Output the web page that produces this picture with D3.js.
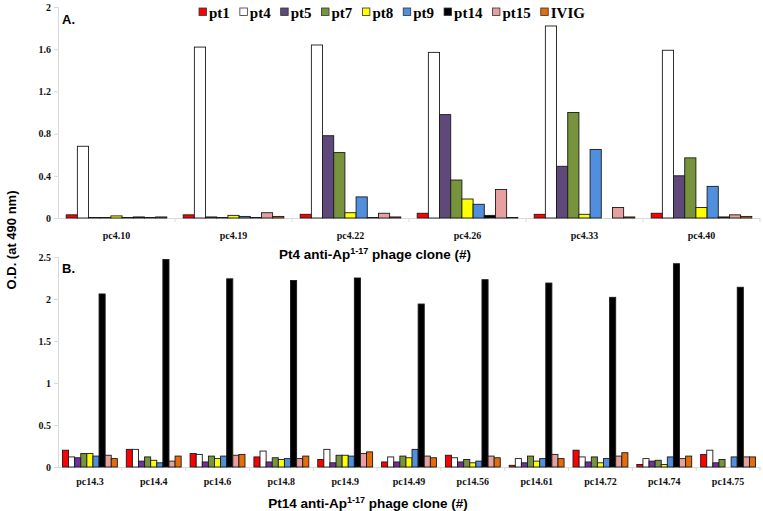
<!DOCTYPE html>
<html><head><meta charset="utf-8">
<script src="https://cdn.jsdelivr.net/npm/d3@7"></script>
<style>body{margin:0;background:#fff}svg{display:block}</style>
</head><body>
<script>
const series = ["pt1","pt4","pt5","pt7","pt8","pt9","pt14","pt15","IVIG"];
const colorsTop = ["#FF0000","#FFFFFF","#5F497A","#77933C","#FFFF00","#4F8FDD","#000000","#E6A0A0","#E46C0A"];
const colorsBottom = ["#FF0000","#FFFFFF","#7030A0","#77933C","#FFFF00","#4F8FDD","#000000","#E6A0A0","#E46C0A"];

const catsA = ["pc4.10","pc4.19","pc4.22","pc4.26","pc4.33","pc4.40"];
const valsA = [ // rows = clones, columns = series
  [0.03,0.68,0.005,0.005,0.02,0.005,0.01,0.005,0.01],
  [0.03,1.62,0.01,0.005,0.025,0.015,0.005,0.05,0.015],
  [0.035,1.64,0.78,0.62,0.05,0.2,0.005,0.045,0.01],
  [0.045,1.57,0.98,0.36,0.18,0.13,0.025,0.27,0.005],
  [0.035,1.82,0.49,1.0,0.035,0.65,0,0.1,0.01],
  [0.045,1.59,0.40,0.57,0.1,0.3,0.01,0.03,0.015]
];
const ticksA = [0,0.4,0.8,1.2,1.6,2];

const catsB = ["pc14.3","pc14.4","pc14.6","pc14.8","pc14.9","pc14.49","pc14.56","pc14.61","pc14.72","pc14.74","pc14.75"];
const valsB = [
  [0.2,0.12,0.11,0.16,0.16,0.13,2.06,0.14,0.1],
  [0.21,0.21,0.07,0.12,0.08,0.05,2.47,0.07,0.13],
  [0.16,0.15,0.06,0.13,0.1,0.13,2.24,0.14,0.15],
  [0.12,0.19,0.06,0.11,0.09,0.1,2.22,0.1,0.13],
  [0.09,0.21,0.05,0.14,0.14,0.13,2.25,0.16,0.18],
  [0.06,0.12,0.06,0.13,0.11,0.21,1.94,0.13,0.11],
  [0.14,0.11,0.06,0.09,0.05,0.07,2.23,0.13,0.11],
  [0.02,0.1,0.05,0.13,0.07,0.1,2.19,0.15,0.1],
  [0.2,0.12,0.06,0.12,0.05,0.1,2.02,0.13,0.17],
  [0.03,0.1,0.07,0.08,0.03,0.12,2.42,0.1,0.13],
  [0.15,0.2,0.05,0.09,0,0.12,2.14,0.12,0.12]
];
const ticksB = [0,0.5,1,1.5,2,2.5];
const tickLabelsB = ["0","0.5","1","1.5","2","2.5"];

const W = 763, H = 511;
const svg = d3.select("body").append("svg").attr("width",W).attr("height",H);
const serif = "'Liberation Serif','Times New Roman',serif";
const sans = "'Liberation Sans',Arial,sans-serif";

function panel(cats, vals, ticks, tickLabels, yMax, yTop, yBase, colors, letter, letterY, labelY, titleX, titleY, titleText){
  const x0 = d3.scaleBand().domain(cats).range([58,760]).paddingInner(0.14).paddingOuter(0.07);
  const x1 = d3.scaleBand().domain(series).range([0,x0.bandwidth()]);
  const y = d3.scaleLinear().domain([0,yMax]).range([yBase,yTop]);
  const g = svg.append("g");
  const ya = d3.axisLeft(y).tickValues(ticks).tickSize(4).tickFormat((d,i)=>tickLabels[i]);
  const yg = g.append("g").attr("transform","translate(58,0)").call(ya);
  yg.select(".domain").attr("stroke","#D9D9D9");
  yg.selectAll(".tick line").attr("stroke","#D9D9D9");
  yg.selectAll("text").attr("font-family",serif).attr("font-weight","bold").attr("font-size",10).attr("fill","#111").attr("x",-7);
  const xa = d3.axisBottom(x0).tickSize(0).tickFormat(d=>d);
  const xg = g.append("g").attr("transform",`translate(0,${yBase})`).call(xa);
  xg.select(".domain").attr("stroke","#D9D9D9");
  xg.selectAll("text").attr("font-family",serif).attr("font-weight","bold").attr("font-size",10).attr("fill","#111").attr("dy",0).attr("y",labelY-yBase);
  g.selectAll(".bt").data(cats.slice(1)).enter().append("line")
    .attr("x1",d=>x0(d)-x0.step()*0.07).attr("x2",d=>x0(d)-x0.step()*0.07)
    .attr("y1",yBase).attr("y2",yBase+4).attr("stroke","#D9D9D9");
  g.append("line").attr("x1",760).attr("x2",760).attr("y1",yBase).attr("y2",yBase+4).attr("stroke","#D9D9D9");
  cats.forEach((c,ci)=>{
    g.append("g").attr("transform",`translate(${x0(c)},0)`)
      .selectAll("rect").data(vals[ci]).enter().append("rect")
      .attr("x",(d,i)=>x1(series[i])).attr("width",x1.bandwidth())
      .attr("y",d=>y(d)).attr("height",d=>yBase-y(d))
      .attr("fill",(d,i)=>colors[i]).attr("stroke","#1a1a1a").attr("stroke-width",0.9);
  });
  g.append("text").attr("x",62).attr("y",letterY).attr("font-family",sans).attr("font-weight","bold").attr("font-size",13).text(letter);
  const t = g.append("text").attr("x",titleX).attr("y",titleY).attr("text-anchor","middle")
    .attr("font-family",sans).attr("font-weight","bold").attr("font-size",13.5);
  t.append("tspan").text(titleText[0]);
  t.append("tspan").attr("dy",-5).attr("font-size",9).text("1-17");
  t.append("tspan").attr("dy",5).text(titleText[1]);
}

panel(catsA, valsA, ticksA, ticksA.map(String), 2, 7, 218, colorsTop, "A.", 24, 239, 375, 259, ["Pt4 anti-Ap"," phage clone (#)"]);
panel(catsB, valsB, ticksB, tickLabelsB, 2.5, 257, 467, colorsBottom, "B.", 273, 485, 368, 508, ["Pt14 anti-Ap"," phage clone (#)"]);

svg.append("text").attr("transform","translate(16,240) rotate(-90)").attr("text-anchor","middle")
  .attr("font-family",sans).attr("font-weight","bold").attr("font-size",13).text("O.D. (at 490 nm)");

const lg = svg.append("g");
let lx = 199;
series.forEach((s,i)=>{
  lg.append("rect").attr("x",lx).attr("y",8).attr("width",7.5).attr("height",7.5)
    .attr("fill",colorsTop[i]).attr("stroke","#333").attr("stroke-width",0.8);
  const tx = lg.append("text").attr("x",lx+10).attr("y",17.5).attr("font-family",serif)
    .attr("font-weight","bold").attr("font-size",15).text(s);
  lx += 10 + tx.node().getComputedTextLength() + 10;
});
</script>
</body></html>
